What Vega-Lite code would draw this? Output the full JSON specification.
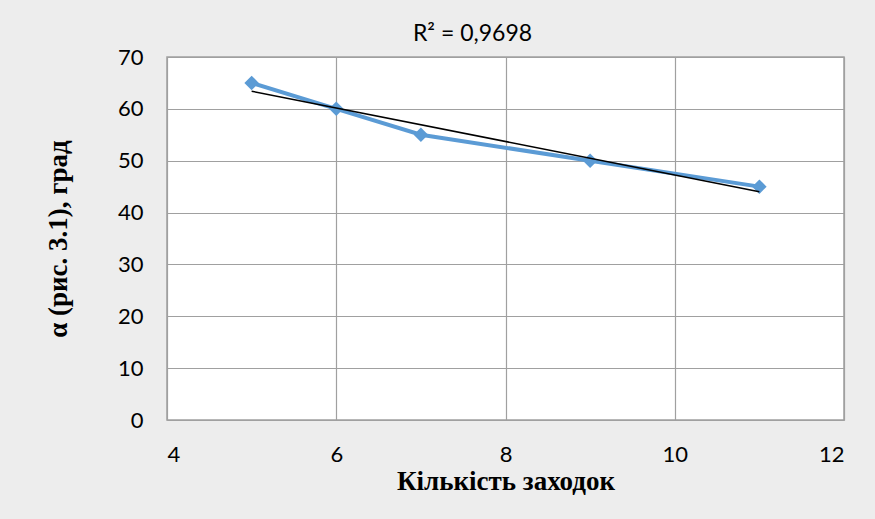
{
  "$schema": "https://vega.github.io/schema/vega-lite/v6.json",
  "autosize": {"type": "none"},
  "padding": {"left": 167, "top": 57, "right": 31, "bottom": 99},
  "width": 677,
  "height": 363,
  "background": "#ededed",
  "config": {
    "view": {"fill": "white", "stroke": "#a0a0a0", "strokeWidth": 1.5},
    "axis": {
      "grid": true, "gridColor": "#a0a0a0", "gridWidth": 1.2,
      "domain": false, "ticks": false,
      "labelFont": "Lato", "labelFontSize": 22, "labelColor": "black",
      "titleFont": "Liberation Serif", "titleFontSize": 27, "titleFontWeight": "bold", "titleColor": "black"
    }
  },
  "title": {
    "text": "R² = 0,9698",
    "font": "Lato", "fontSize": 23, "fontWeight": "normal", "color": "black",
    "anchor": "middle", "dx": -33, "offset": -18, "baseline": "alphabetic"
  },
  "data": {"values": [
    {"x": 5, "y": 65},
    {"x": 6, "y": 60},
    {"x": 7, "y": 55},
    {"x": 9, "y": 50},
    {"x": 11, "y": 45}
  ]},
  "layer": [
    {
      "mark": {"type": "line", "color": "#5b9bd5", "strokeWidth": 4, "point": {"shape": "diamond", "size": 210, "color": "#5b9bd5", "filled": true, "opacity": 1}},
      "encoding": {
        "x": {"field": "x", "type": "quantitative", "scale": {"domain": [4, 12], "nice": false, "zero": false},
          "axis": {"values": [4, 6, 8, 10, 12], "format": "d", "labelPadding": 24, "title": "Кількість заходок", "titlePadding": 3}},
        "y": {"field": "y", "type": "quantitative", "scale": {"domain": [0, 70], "nice": false},
          "axis": {"values": [0, 10, 20, 30, 40, 50, 60, 70], "format": "d", "labelPadding": 24, "title": "α (рис. 3.1), град", "titlePadding": 45}}
      }
    },
    {
      "transform": [{"regression": "y", "on": "x"}],
      "mark": {"type": "line", "color": "black", "strokeWidth": 1.5},
      "encoding": {
        "x": {"field": "x", "type": "quantitative"},
        "y": {"field": "y", "type": "quantitative"}
      }
    }
  ]
}
